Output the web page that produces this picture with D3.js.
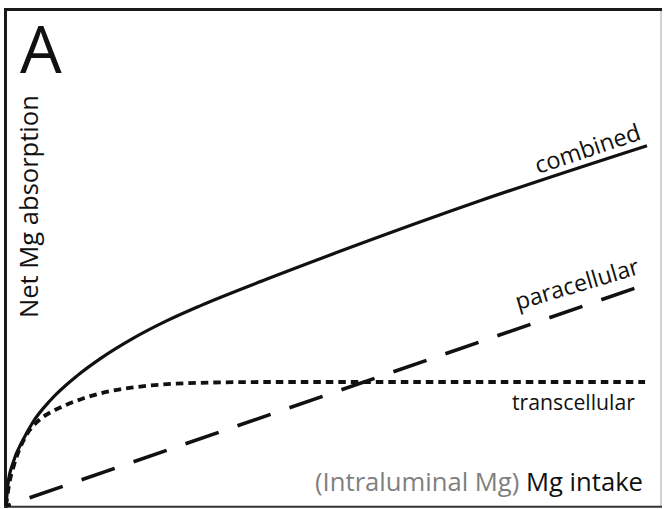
<!DOCTYPE html>
<html>
<head>
<meta charset="utf-8">
<script src="https://cdn.jsdelivr.net/npm/d3@7"></script>
<style>
  html, body { margin: 0; padding: 0; background: #fff; }
  svg { display: block; }
  text { font-family: "Open Sans", "Noto Sans", sans-serif; fill: #111; }
</style>
</head>
<body>
<svg id="chart" width="668" height="509"></svg>
<script>
// Mg intake (arbitrary units, 0–100) and net absorption (arbitrary units)
const combinedX = [0, 0.16, 0.31, 1.09, 2.65, 4.21, 6.86, 11.08, 14.66, 19.81, 25.12, 30.27, 40.72, 53.67, 73.95, 100];
const combinedY = [0, 3, 5.5, 10.75, 16.5, 21, 26.31, 32.53, 36.78, 41.9, 46.33, 50.03, 56.73, 64.6, 76.3, 90.08];

const paracellularX = [0, 100];
const paracellularY = [0, 55.5];

const transcellularX = [0, 0.47, 1.25, 2.18, 3.28, 4.52, 5.77, 7.64, 9.52, 12.01, 14.66, 19.81, 25.12, 30.27, 40.72, 61.47, 99.7];
const transcellularY = [0, 5.25, 10.25, 14.5, 18, 20.5, 22.25, 24, 25.38, 26.88, 28.13, 29.63, 30.45, 30.8, 31, 31, 31];

const seriesNames = ["combined", "paracellular", "transcellular"];
const panelLabel = "A";
const yTitle = "Net Mg absorption";
const xTitleNote = "(Intraluminal Mg)";
const xTitle = "Mg intake";

const svg = d3.select("#chart");

const x = d3.scaleLinear().domain([0, 100]).range([6, 647]);
const y = d3.scaleLinear().domain([0, 100]).range([506, 106]);

// frame
svg.append("line").attr("x1", 661).attr("x2", 661).attr("y1", 8).attr("y2", 507)
  .attr("stroke", "#b5b5b5").attr("stroke-width", 1.2);
svg.append("line").attr("x1", 4).attr("x2", 662).attr("y1", 9.5).attr("y2", 9.5)
  .attr("stroke", "#1a1a1a").attr("stroke-width", 3.2);
svg.append("line").attr("x1", 5.5).attr("x2", 5.5).attr("y1", 8).attr("y2", 508)
  .attr("stroke", "#1a1a1a").attr("stroke-width", 3);
svg.append("line").attr("x1", 4).attr("x2", 662).attr("y1", 506.8).attr("y2", 506.8)
  .attr("stroke", "#333").attr("stroke-width", 2);

const toPoints = (xs, ys) => xs.map((v, i) => [v, ys[i]]);
const lineGen = d3.line().x(d => x(d[0])).y(d => y(d[1])).curve(d3.curveMonotoneX);

// transcellular (dotted)
svg.append("path")
  .datum(toPoints(transcellularX, transcellularY))
  .attr("d", lineGen)
  .attr("fill", "none").attr("stroke", "#111").attr("stroke-width", 3.8)
  .attr("stroke-dasharray", "7.5,5");

// paracellular (long dashes)
svg.append("path")
  .datum(toPoints(paracellularX, paracellularY))
  .attr("d", lineGen)
  .attr("fill", "none").attr("stroke", "#111").attr("stroke-width", 3.6)
  .attr("stroke-dasharray", "35,20").attr("stroke-dashoffset", 30);

// combined (solid)
svg.append("path")
  .datum(toPoints(combinedX, combinedY))
  .attr("d", lineGen)
  .attr("fill", "none").attr("stroke", "#111").attr("stroke-width", 3.2);

// scale a text's font size so it spans a given width
function fitWidth(sel, target) {
  const fs = parseFloat(sel.attr("font-size"));
  const w = sel.node().getComputedTextLength();
  sel.attr("font-size", (fs * target / w).toFixed(2));
  return sel;
}

// panel letter
svg.append("text").attr("x", 20).attr("y", 73).attr("font-size", 66).text(panelLabel);

// y title
const yt = svg.append("text")
  .attr("transform", "translate(38,318) rotate(-90)")
  .attr("font-size", 22).text(yTitle);
fitWidth(yt, 223);

// series labels
const lc = svg.append("text")
  .attr("transform", "translate(538,174) rotate(-18.5)")
  .attr("font-size", 20).text(seriesNames[0]);
fitWidth(lc, 110);

const lp = svg.append("text")
  .attr("transform", "translate(518,310) rotate(-16.5)")
  .attr("font-size", 19).text(seriesNames[1]);
fitWidth(lp, 128);

const lt = svg.append("text")
  .attr("x", 512).attr("y", 410)
  .attr("font-size", 19).text(seriesNames[2]);
fitWidth(lt, 123);

// x title
const xt = svg.append("text").attr("x", 643).attr("y", 491).attr("text-anchor", "end")
  .attr("font-size", 22);
xt.append("tspan").attr("fill", "#7f7f7f").style("fill", "#7f7f7f").text(xTitleNote + " ");
xt.append("tspan").text(xTitle);
fitWidth(xt, 328);
</script>
</body>
</html>
